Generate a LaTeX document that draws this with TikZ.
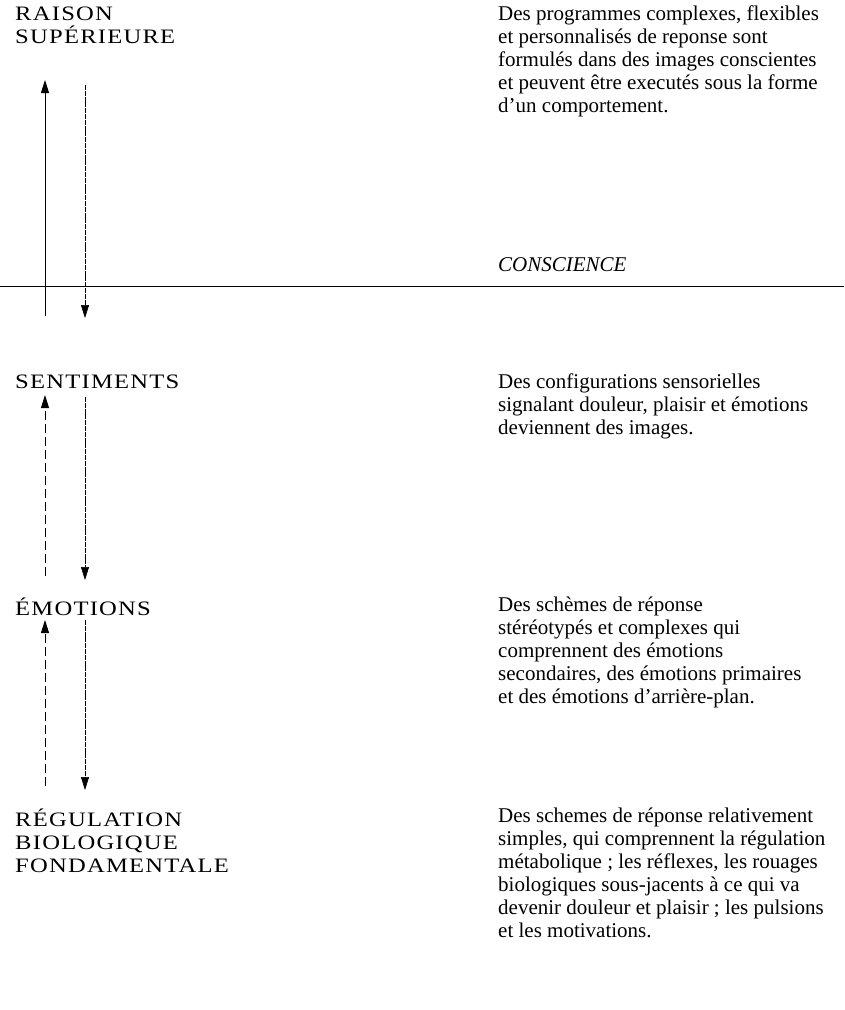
\documentclass[tikz,border=0pt]{standalone}
\usepackage{fontspec}
\setmainfont{Liberation Serif}
\newfontfamily\levelfont[FakeStretch=1.2, LetterSpace=6]{Liberation Serif}
\usetikzlibrary{arrows.meta}
\begin{document}
\begin{tikzpicture}[x=1pt,y=-1pt,
  level/.style={anchor=north west, inner sep=0pt, align=left,
    font=\levelfont\fontsize{20.5}{23}\selectfont},
  gloss/.style={anchor=north west, inner sep=0pt, align=left,
    font=\fontsize{21}{23}\selectfont},
  flow/.style={line width=0.9pt, -{Triangle[length=13pt,width=8pt]}},
  solidflow/.style={flow},
  faintflow/.style={flow, line width=0.6pt, dash pattern=on 5pt off 0.8pt},
  brokenflow/.style={flow, dash pattern=on 9pt off 4pt}]
\useasboundingbox (0,0) rectangle (844,1010);

% left column: the levels
\node[level] (raison) at (15,7) {RAISON\\SUPÉRIEURE};
\node[level] (sentiments) at (15,375) {SENTIMENTS};
\node[level] (emotions) at (15,598) {ÉMOTIONS};
\node[level] (regulation) at (15,809) {RÉGULATION\\BIOLOGIQUE\\FONDAMENTALE};

% right column: what happens at each level
\node[gloss] (g1) at (498,6) {Des programmes complexes, flexibles\\
  et personnalisés de reponse sont\\
  formulés dans des images conscientes\\
  et peuvent être executés sous la forme\\
  d'un comportement.};
\node[gloss, font=\fontsize{21}{23}\selectfont\itshape] (conscience) at (498,257) {CONSCIENCE};
\node[gloss] (g2) at (498,374) {Des configurations sensorielles\\
  signalant douleur, plaisir et émotions\\
  deviennent des images.};
\node[gloss] (g3) at (498,597) {Des schèmes de réponse\\
  stéréotypés et complexes qui\\
  comprennent des émotions\\
  secondaires, des émotions primaires\\
  et des émotions d'arrière-plan.};
\node[gloss] (g4) at (498,808) {Des schemes de réponse relativement\\
  simples, qui comprennent la régulation\\
  métabolique ; les réflexes, les rouages\\
  biologiques sous-jacents à ce qui va\\
  devenir douleur et plaisir ; les pulsions\\
  et les motivations.};

% threshold of consciousness
\coordinate (cl) at (0,286);
\coordinate (cr) at (844,286);
\draw[line width=0.9pt] (cl) -- (cr);

% arrows between the levels
\coordinate (up1a) at (45,316);  \coordinate (up1b) at (45,80);
\coordinate (dn1a) at (85,85);   \coordinate (dn1b) at (85,318);
\coordinate (up2a) at (45,576);  \coordinate (up2b) at (45,395);
\coordinate (dn2a) at (85,397);  \coordinate (dn2b) at (85,580);
\coordinate (up3a) at (45,786);  \coordinate (up3b) at (45,620);
\coordinate (dn3a) at (85,620);  \coordinate (dn3b) at (85,790);

\draw[solidflow] (up1a) -- (up1b);
\draw[faintflow] (dn1a) -- (dn1b);
\draw[brokenflow] (up2a) -- (up2b);
\draw[faintflow] (dn2a) -- (dn2b);
\draw[brokenflow] (up3a) -- (up3b);
\draw[faintflow] (dn3a) -- (dn3b);
\end{tikzpicture}
\end{document}
